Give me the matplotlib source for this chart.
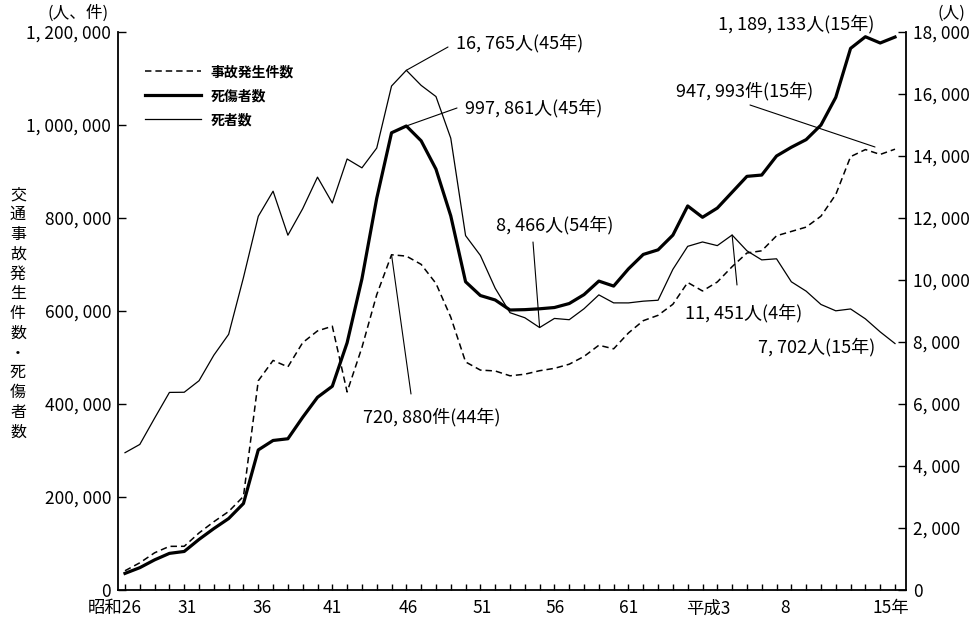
import matplotlib
matplotlib.use('Agg')
import matplotlib.pyplot as plt
from matplotlib.ticker import FuncFormatter, FixedLocator
import numpy as np

plt.rcParams['font.family'] = ['Noto Sans CJK JP', 'DejaVu Sans']

# ---------------- data (昭和26年 = 1951 ... 平成15年 = 2003) ----------------
years = list(range(1951, 2004))
accidents = [41423, 58487, 80019, 93869, 93981, 122691, 146833, 168799, 201292,
             449917, 493693, 479825, 531966, 557183, 567286, 425944, 521481, 635056, 720880,
             718080, 700290, 659283, 586713, 490452, 472938, 471041, 460649, 464037, 471573,
             476677, 485578, 502261, 526362, 518642, 552788, 579190, 590723, 614481, 661363,
             643097, 662392, 695346, 724678, 729461, 761794, 771085, 780401, 803882, 850371,
             931934, 947169, 936721, 947993]
casualties = [35703, 48017, 64824, 78764, 82880, 108823, 132105, 153680, 186030,
              301211, 321562, 325258, 371390, 414435, 438150, 531679, 668995, 842327, 983257,
              997861, 965967, 905116, 804522, 662852, 633259, 623691, 602156, 602899, 604748,
              607479, 616065, 635265, 664342, 653583, 690607, 721647, 731526, 763189, 825918,
              801522, 821354, 855454, 889575, 892372, 933361, 952146, 968565, 999886, 1059405,
              1164763, 1189786, 1176355, 1189133]
deaths = [4429, 4696, 5544, 6374, 6379, 6751, 7575, 8248, 10079,
          12055, 12865, 11445, 12301, 13318, 12484, 13904, 13618, 14256, 16257,
          16765, 16278, 15918, 14574, 11432, 10792, 9734, 8945, 8783, 8466,
          8760, 8719, 9073, 9520, 9262, 9261, 9317, 9347, 10344, 11086,
          11227, 11109, 11451, 10942, 10649, 10684, 9942, 9640, 9211, 9006,
          9066, 8747, 8326, 7950]

series_labels = ['事故発生件数', '死傷者数', '死者数']
xtick_labels = ['昭和26', '31', '36', '41', '46', '51', '56', '61', '平成3', '8', '15年']
xtick_label_pos = [-0.7, 4.2, 9.25, 14.0, 19.1, 24.1, 29.05, 34.0, 39.4, 44.6, 51.7]
left_ticks = [0, 200000, 400000, 600000, 800000, 1000000, 1200000]
right_ticks = [0, 2000, 4000, 6000, 8000, 10000, 12000, 14000, 16000, 18000]
ylabel_text = '交通事故発生件数・死傷者数'

# ---------------- figure ----------------
W, H = 980, 623
fig = plt.figure(figsize=(W / 100, H / 100), dpi=100)
L, R, T, B = 118, 906, 32, 590
ax = fig.add_axes([L / W, 1 - B / H, (R - L) / W, (B - T) / H])
ax2 = ax.twinx()

x = np.arange(len(years))
x0px, x1px = 125, 895
ppu = (x1px - x0px) / (len(years) - 1)
ax.set_xlim((L - x0px) / ppu, (len(years) - 1) + (R - x1px) / ppu)
ax.set_ylim(0, 1200000)
ax2.set_ylim(0, 18000)

l1, = ax.plot(x, accidents, color='black', lw=1.1, linestyle=(0, (4.2, 2.6)))
l2, = ax.plot(x, casualties, color='black', lw=2.3, solid_joinstyle='round')
l3, = ax2.plot(x, deaths, color='black', lw=0.9)

for a in (ax, ax2):
    a.spines['top'].set_visible(False)
    for s in ('left', 'right', 'bottom'):
        a.spines[s].set_linewidth(1.3)
ax.spines['right'].set_visible(False)
ax2.spines['left'].set_visible(False)
ax2.spines['bottom'].set_visible(False)

fmt = FuncFormatter(lambda v, p: f"{int(v):,}".replace(',', ', '))
ax.yaxis.set_major_locator(FixedLocator(left_ticks))
ax.yaxis.set_major_formatter(fmt)
ax2.yaxis.set_major_locator(FixedLocator(right_ticks))
ax2.yaxis.set_major_formatter(fmt)
ax.tick_params(axis='y', direction='in', length=6, width=1, labelsize=12.5, pad=5)
ax2.tick_params(axis='y', direction='in', length=6, width=1, labelsize=12.5, pad=5)

ax.set_xticks(x)
ax.set_xticklabels([])
ax.tick_params(axis='x', direction='in', length=4, width=1)

for lab, pos in zip(xtick_labels, xtick_label_pos):
    ax.text(pos, -0.033, lab, transform=ax.get_xaxis_transform(), ha='center', va='center',
            fontsize=12.5, clip_on=False)

# unit labels
fig.text(78 / W, 1 - 13 / H, '(人、件)', ha='center', va='center', fontsize=12)
fig.text(951 / W, 1 - 13 / H, '(人)', ha='center', va='center', fontsize=12)

# vertical y label
n = len(ylabel_text)
for k, ch in enumerate(ylabel_text):
    py = 195 + k * (432 - 195) / (n - 1)
    fig.text(18 / W, 1 - py / H, ch, ha='center', va='center', fontsize=11.5)

# legend
ax.legend([l1, l2, l3], series_labels, loc='upper left',
          bbox_to_anchor=(145 / W, 1 - 65 / H), bbox_transform=fig.transFigure,
          frameon=False, borderpad=0, borderaxespad=0, handlelength=4.0,
          handletextpad=0.75, labelspacing=0.72, prop={'size': 10, 'weight': 'bold'})

# annotations
def P(px, py, a):
    return a.transData.inverted().transform((px, H - py))

def leader(a, xy, px, py):
    a.annotate('', xy=xy, xytext=P(px, py, a),
               arrowprops=dict(arrowstyle='-', lw=0.8, color='black', shrinkA=0, shrinkB=0))

def label(a, px, py, s, ha='left'):
    a.text(*P(px, py, a), s, ha=ha, va='center', fontsize=13)

i45 = years.index(1970)
i44 = years.index(1969)
i54 = years.index(1979)
i4 = years.index(1992)

leader(ax2, (i45, deaths[i45]), 448, 47)
label(ax2, 456, 43, '16, 765人(45年)')

leader(ax, (i45, casualties[i45]), 457, 108)
label(ax, 465, 108, '997, 861人(45年)')

leader(ax2, (i54, deaths[i54]), 533, 242)
label(ax2, 555, 225, '8, 466人(54年)', ha='center')

leader(ax, (i44, accidents[i44]), 411, 394)
label(ax, 432, 417, '720, 880件(44年)', ha='center')

label(ax, 796, 24, '1, 189, 133人(15年)', ha='center')

ax.annotate('', xy=P(875, 147, ax), xytext=P(750, 105, ax),
            arrowprops=dict(arrowstyle='-', lw=0.8, color='black', shrinkA=0, shrinkB=0))
label(ax, 745, 91, '947, 993件(15年)', ha='center')

leader(ax2, (i4, deaths[i4]), 737, 285)
label(ax2, 744, 313, '11, 451人(4年)', ha='center')

label(ax2, 817, 347, '7, 702人(15年)', ha='center')

fig.savefig('out.png', dpi=100)
